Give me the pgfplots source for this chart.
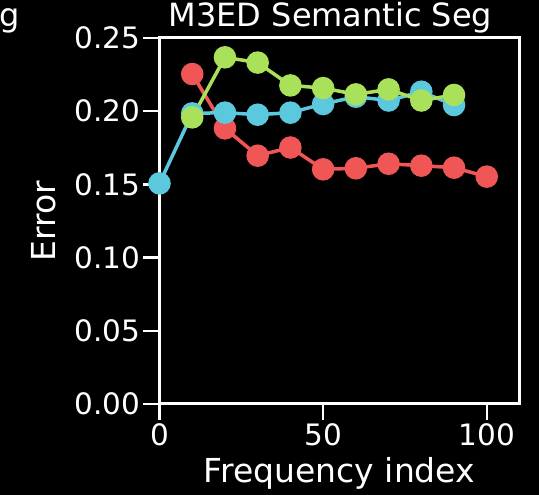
\documentclass[border=0pt]{standalone}
\usepackage{fontspec}
\setmainfont{DejaVu Sans}
\usepackage{pgfplots}
\pgfplotsset{compat=1.18}
\definecolor{cred}{RGB}{240,86,86}
\definecolor{cgreen}{RGB}{170,225,90}
\definecolor{ccyan}{RGB}{92,200,222}
\begin{document}
\begin{tikzpicture}[x=1pt,y=1pt]
\fill[black, use as bounding box] (0,0) rectangle (539,495);
\node[anchor=base west, white, font=\fontsize{32}{36}\selectfont, inner sep=0] at (-1,468) {g};
\begin{axis}[
  at={(159.5pt,91pt)}, anchor=south west,
  scale only axis, width=360pt, height=366pt,
  xmin=0, xmax=110, ymin=0, ymax=0.25,
  xtick={0,50,100}, ytick={0,0.05,0.10,0.15,0.20,0.25},
  yticklabel style={inner sep=3pt, /pgf/number format/.cd, fixed, fixed zerofill, precision=2},
  xticklabel style={inner sep=3pt},
  /pgf/number format/assume math mode=true,
  axis line style={white, line width=3pt},
  tick style={white, line width=2.5pt},
  tick align=outside, xtick pos=left, ytick pos=left,
  major tick length=16pt,
  ticklabel style={white, font=\fontsize{29.5}{33}\selectfont},
  label style={white, font=\fontsize{33}{38}\selectfont},
  every axis title shift=0pt,
  title style={white, font=\fontsize{32}{38}\selectfont, at={(0.475,1)}, anchor=base, yshift=11pt},
  title={M3ED Semantic Seg},
  xlabel={Frequency index}, ylabel={Error},
  xlabel style={at={(axis description cs:0.5,0)}, anchor=base, yshift=-79pt},
  ylabel style={at={(axis description cs:-0.322,0.5)}, anchor=center},
  every axis plot/.append style={line width=3.5pt, mark=*, mark size=9.5pt},
  clip=false,
]
\addplot[cred, mark options={fill=cred, draw=cred}] coordinates {
(10,0.2254) (20,0.1883) (30,0.1696) (40,0.1752) (50,0.1603) (60,0.1610) (70,0.1641) (80,0.1628) (90,0.1614) (100,0.1553)};
\addplot[ccyan, mark options={fill=ccyan, draw=ccyan}] coordinates {
(0,0.1507) (10,0.1985) (20,0.1990) (30,0.1976) (40,0.1990) (50,0.2049) (60,0.2099) (70,0.2073) (80,0.2133) (90,0.2042)};
\addplot[cgreen, mark options={fill=cgreen, draw=cgreen}] coordinates {
(10,0.1958) (20,0.2368) (30,0.2332) (40,0.2176) (50,0.2158) (60,0.2115) (70,0.2149) (80,0.2073) (90,0.2111)};
\end{axis}
\end{tikzpicture}
\end{document}
